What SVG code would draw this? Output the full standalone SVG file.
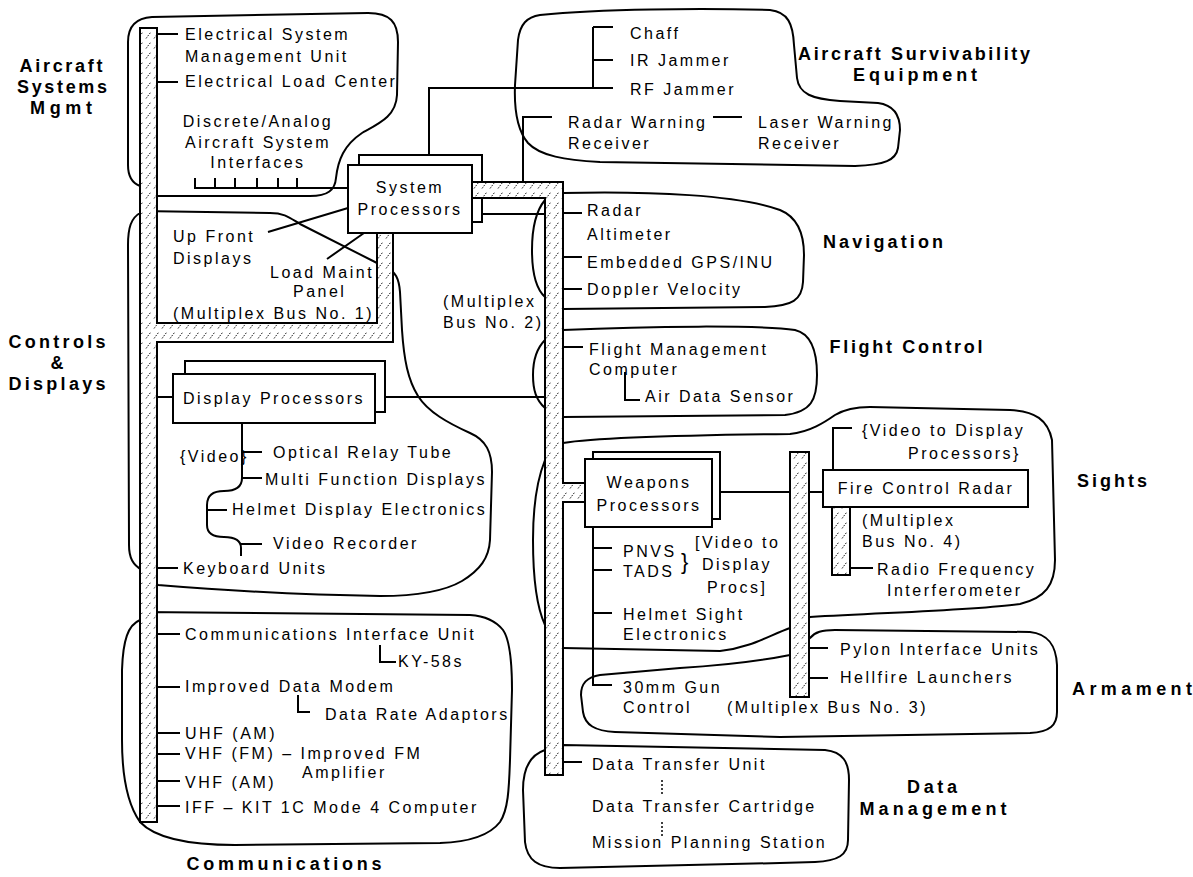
<svg xmlns="http://www.w3.org/2000/svg" width="1193" height="877" viewBox="0 0 1193 877">
<defs>
<pattern id="hatch" patternUnits="userSpaceOnUse" width="8" height="10">
<rect width="8" height="10" fill="#fff"/>
<path d="M2,8.5 L6.5,2.5" stroke="#222" stroke-width="1" stroke-dasharray="1.6 1.2"/>
</pattern>
<style>
.t{font-family:"Liberation Sans",Arial,sans-serif;font-size:16px;letter-spacing:2.5px;fill:#000}
.c{text-anchor:middle}
.b{font-family:"Liberation Sans",Arial,sans-serif;font-size:18px;font-weight:bold;fill:#000;text-anchor:middle}
.blob{fill:none;stroke:#000;stroke-width:2;stroke-linejoin:round}
.ln{fill:none;stroke:#000;stroke-width:2}
.box{fill:#fff;stroke:#000;stroke-width:2}
.bus{fill:url(#hatch);stroke:#000;stroke-width:2}
.dot{stroke:#000;stroke-width:1.5;stroke-dasharray:2 2}
</style>
</defs>
<rect width="1193" height="877" fill="#fff"/>

<g id="asm">
<path class="blob" d="M140,186 C132,183 128,176 128,165 L128,42 C128,26 136,18 152,17 L368,13 C390,13 398,22 398,42 L397,95 C396,116 380,123 362,133 C344,145 338,160 336,178 C335,190 328,196 310,196 L140,196"/>
<text class="b" x="61" y="72" textLength="83" lengthAdjust="spacing">Aircraft</text>
<text class="b" x="62" y="93" textLength="90" lengthAdjust="spacing">Systems</text>
<text class="b" x="61" y="114" textLength="62" lengthAdjust="spacing">Mgmt</text>
<text class="t" x="185" y="40">Electrical System</text>
<text class="t" x="185" y="62">Management Unit</text>
<text class="t" x="185" y="87">Electrical Load Center</text>
<text class="t c" x="258" y="127">Discrete/Analog</text>
<text class="t c" x="258" y="148">Aircraft System</text>
<text class="t c" x="258" y="168">Interfaces</text>
</g>

<g id="ase">
<path class="blob" d="M540,15 C600,9 700,8 770,10 C788,12 793,24 794,45 L797,78 C799,94 812,99 840,101 L878,103 C893,105 900,114 900,130 L898,148 C896,160 885,165 855,166 L600,162 C565,160 540,156 528,143 C517,130 514,110 515,85 L518,40 C520,24 527,17 540,15 Z"/>
<text class="t" x="630" y="39">Chaff</text>
<text class="t" x="630" y="66">IR Jammer</text>
<text class="t" x="630" y="95">RF Jammer</text>
<text class="t" x="568" y="128">Radar Warning</text>
<text class="t" x="568" y="149">Receiver</text>
<text class="t" x="758" y="128">Laser Warning</text>
<text class="t" x="758" y="149">Receiver</text>
<text class="b" x="914" y="60" textLength="232" lengthAdjust="spacing">Aircraft Survivability</text>
<text class="b" x="915" y="81" textLength="124" lengthAdjust="spacing">Equipment</text>
</g>

<g id="nav">
<path class="blob" d="M563,193 C650,191 740,195 780,210 C797,217 804,232 804,255 L803,282 C802,300 792,306 765,307 L563,309"/>
<path class="blob" d="M545,200 C535,212 532,232 532,250 C532,270 535,288 545,297"/>
<text class="t" x="587" y="216">Radar</text>
<text class="t" x="587" y="240">Altimeter</text>
<text class="t" x="587" y="268">Embedded GPS/INU</text>
<text class="t" x="587" y="295">Doppler Velocity</text>
<text class="b" x="883" y="248" textLength="120" lengthAdjust="spacing">Navigation</text>
<text class="t" x="443" y="307">(Multiplex</text>
<text class="t" x="443" y="328">Bus No. 2)</text>
</g>

<g id="fc">
<path class="blob" d="M563,330 C650,326 760,325 795,330 C812,334 817,352 817,375 C817,400 811,412 785,415 L563,417"/>
<path class="blob" d="M545,340 C535,350 533,362 533,375 C533,390 536,400 545,408"/>
<text class="t" x="589" y="355">Flight Management</text>
<text class="t" x="589" y="375">Computer</text>
<text class="t" x="645" y="402">Air Data Sensor</text>
<text class="b" x="906" y="353" textLength="153" lengthAdjust="spacing">Flight Control</text>
</g>

<g id="cd">
<path class="blob" d="M140,213 C131,218 128,228 128,245 L129,545 C129,558 133,565 142,570 L158,585 C220,590 300,595 380,596 C420,596 445,591 462,581 C480,570 489,558 490,540 L492,472 C492,452 486,440 470,433 C448,423 428,412 418,396 C408,380 404,360 402,330 L400,292 C399,278 395,272 388,268 L377,263 L300,224 C290,218 285,213 270,213 L140,211 Z"/>
<text class="b" x="57" y="348" textLength="97" lengthAdjust="spacing">Controls</text>
<text class="b" x="57" y="369">&amp;</text>
<text class="b" x="57" y="390" textLength="97" lengthAdjust="spacing">Displays</text>
<text class="t" x="173" y="242">Up Front</text>
<text class="t" x="173" y="264">Displays</text>
<text class="t" x="270" y="278">Load Maint</text>
<text class="t" x="293" y="297">Panel</text>
<text class="t" x="173" y="319">(Multiplex Bus No. 1)</text>
<text class="t" x="180" y="462">{Video}</text>
<text class="t" x="273" y="458">Optical Relay Tube</text>
<text class="t" x="265" y="485">Multi Function Displays</text>
<text class="t" x="232" y="515">Helmet Display Electronics</text>
<text class="t" x="273" y="549">Video Recorder</text>
<text class="t" x="183" y="574">Keyboard Units</text>
</g>

<g id="sights">
<path class="blob" d="M563,443 C600,437 700,435 790,434 C810,432 825,422 835,415 C845,409 855,407 870,407 L1010,410 C1035,411 1048,420 1052,440 L1055,560 C1055,585 1045,598 1020,604 C980,610 900,612 810,617 L790,628 C770,635 750,648 720,651 L563,648"/>
<path class="blob" d="M545,460 C537,480 533,510 533,540 C533,580 538,610 545,625"/>
<text class="t" x="623" y="557">PNVS</text>
<text class="t" x="623" y="577">TADS</text>
<text x="681" y="569" style="font-family:'Liberation Sans',Arial,sans-serif;font-size:22px">}</text>
<text class="t" x="695" y="548">[Video to</text>
<text class="t" x="702" y="570">Display</text>
<text class="t" x="707" y="593">Procs]</text>
<text class="t" x="623" y="620">Helmet Sight</text>
<text class="t" x="623" y="640">Electronics</text>
<text class="t" x="862" y="436">{Video to Display</text>
<text class="t" x="908" y="459">Processors}</text>
<text class="t" x="862" y="526">(Multiplex</text>
<text class="t" x="862" y="547">Bus No. 4)</text>
<text class="t" x="877" y="575">Radio Frequency</text>
<text class="t" x="887" y="596">Interferometer</text>
<text class="b" x="1112" y="487" textLength="70" lengthAdjust="spacing">Sights</text>
</g>

<g id="armament">
<path class="blob" d="M810,638 C815,632 822,630 835,630 L1030,632 C1048,634 1056,645 1057,665 L1057,712 C1057,725 1050,732 1030,733 L780,737 L615,732 C595,731 585,725 583,712 L581,695 C581,683 587,677 600,675 L680,668 C730,665 765,660 790,655 Z"/>
<text class="t" x="623" y="693">30mm Gun</text>
<text class="t" x="623" y="713">Control</text>
<text class="t" x="840" y="655">Pylon Interface Units</text>
<text class="t" x="840" y="683">Hellfire Launchers</text>
<text class="t" x="727" y="713">(Multiplex Bus No. 3)</text>
<text class="b" x="1132" y="695" textLength="120" lengthAdjust="spacing">Armament</text>
</g>

<g id="dm">
<path class="blob" d="M563,745 L825,750 C843,752 849,762 849,780 L848,840 C848,855 838,861 815,862 L780,863 L560,868 C538,868 527,860 525,842 L523,790 C523,768 530,755 545,750 Z"/>
<text class="t" x="592" y="770">Data Transfer Unit</text>
<text class="t" x="592" y="812">Data Transfer Cartridge</text>
<text class="t" x="592" y="848">Mission Planning Station</text>
<text class="b" x="932" y="793" textLength="50" lengthAdjust="spacing">Data</text>
<text class="b" x="933" y="815" textLength="147" lengthAdjust="spacing">Management</text>
</g>

<g id="comm">
<path class="blob" d="M140,620 C128,625 123,640 122,670 L122,740 C122,780 128,805 140,822 C155,838 190,845 235,845 L440,843 C470,842 490,835 500,822 C508,810 509,790 510,760 L512,690 C512,660 510,640 503,630 C495,620 485,616 470,615 L140,612 Z"/>
<text class="t" x="185" y="640">Communications Interface Unit</text>
<text class="t" x="398" y="667">KY-58s</text>
<text class="t" x="185" y="692">Improved Data Modem</text>
<text class="t" x="325" y="720">Data Rate Adaptors</text>
<text class="t" x="185" y="739">UHF (AM)</text>
<text class="t" x="185" y="759">VHF (FM) – Improved FM</text>
<text class="t" x="302" y="778">Amplifier</text>
<text class="t" x="185" y="788">VHF (AM)</text>
<text class="t" x="185" y="813">IFF – KIT 1C Mode 4 Computer</text>
<text class="b" x="284" y="870" textLength="195" lengthAdjust="spacing">Communications</text>
</g>

<g id="connectors">
<path class="ln" d="M157,34 H178 M157,82 H178"/>
<path class="ln" d="M195,178 V188 H348 M215,178 V188 M235,178 V188 M257,178 V188 M278,178 V188 M297,178 V188"/>
<path class="ln" d="M268,232 L348,208 M364,233 L327,259"/>
<path class="ln" d="M157,397 H173 M375,397 H545"/>
<path class="ln" d="M242,423 V478 C242,487 236,491 224,491 C212,491 207,496 207,505 V525 C207,533 212,537 224,537 C236,537 241,541 241,548 V556"/>
<path class="ln" d="M242,452 H262 M242,478 H262 M207,510 H227 M241,544 H262"/>
<path class="ln" d="M157,568 H178"/>
<path class="ln" d="M563,213 H582 M563,257 H582 M563,289 H582"/>
<path class="ln" d="M563,347 H583 M625,372 V400 H640"/>
<path class="ln" d="M482,214 H545"/>
<path class="ln" d="M593,27 V88 M593,27 H613 M593,60 H613 M593,88 H613 M593,88 H429 V155"/>
<path class="ln" d="M552,117 H523 V182 M713,117 H742"/>
<path class="ln" d="M720,492 H790 M809,492 H823"/>
<path class="ln" d="M593,527 V685 H612 M593,548 H612 M593,570 H612 M593,613 H612"/>
<path class="ln" d="M833,470 V428 H852 M850,568 H873"/>
<path class="ln" d="M810,648 H828 M810,678 H828"/>
<path class="ln" d="M563,762 H582"/>
<path class="dot" d="M662,780 V795 M662,822 V836"/>
<path class="ln" d="M157,634 H180 M380,645 V662 H396 M157,687 H180 M298,695 V712 H310 M157,733 H180 M157,754 H180 M157,781 H180 M157,806 H180"/>
</g>

<g id="system-processors">
<rect class="box" x="359" y="155" width="123" height="67"/>
<rect class="box" x="348" y="165" width="124" height="68"/>
<text class="t c" x="410" y="193">System</text>
<text class="t c" x="410" y="215">Processors</text>
</g>

<g id="display-processors">
<rect class="box" x="185" y="361" width="200" height="51"/>
<rect class="box" x="173" y="374" width="202" height="49"/>
<text class="t c" x="274" y="404">Display Processors</text>
</g>

<g id="weapons-processors">
<rect class="box" x="593" y="452" width="127" height="67"/>
<rect class="box" x="585" y="459" width="127" height="68"/>
<text class="t c" x="649" y="488">Weapons</text>
<text class="t c" x="649" y="511">Processors</text>
</g>

<g id="fire-control-radar">
<rect class="box" x="823" y="470" width="205" height="37"/>
<text class="t c" x="926" y="494">Fire Control Radar</text>
</g>

<g id="bus1">
<path class="bus" d="M140,28 H157 V323 H377 V233 H393 V342 H157 V822 H140 Z"/>
</g>
<g id="bus2">
<path class="bus" d="M472,182 H563 V483 H585 V502 H563 V775 H545 V198 H472 Z"/>
</g>
<g id="bus3">
<rect class="bus" x="790" y="452" width="19" height="245"/>
</g>
<g id="bus4">
<rect class="bus" x="832" y="507" width="18" height="68"/>
</g>
</svg>
